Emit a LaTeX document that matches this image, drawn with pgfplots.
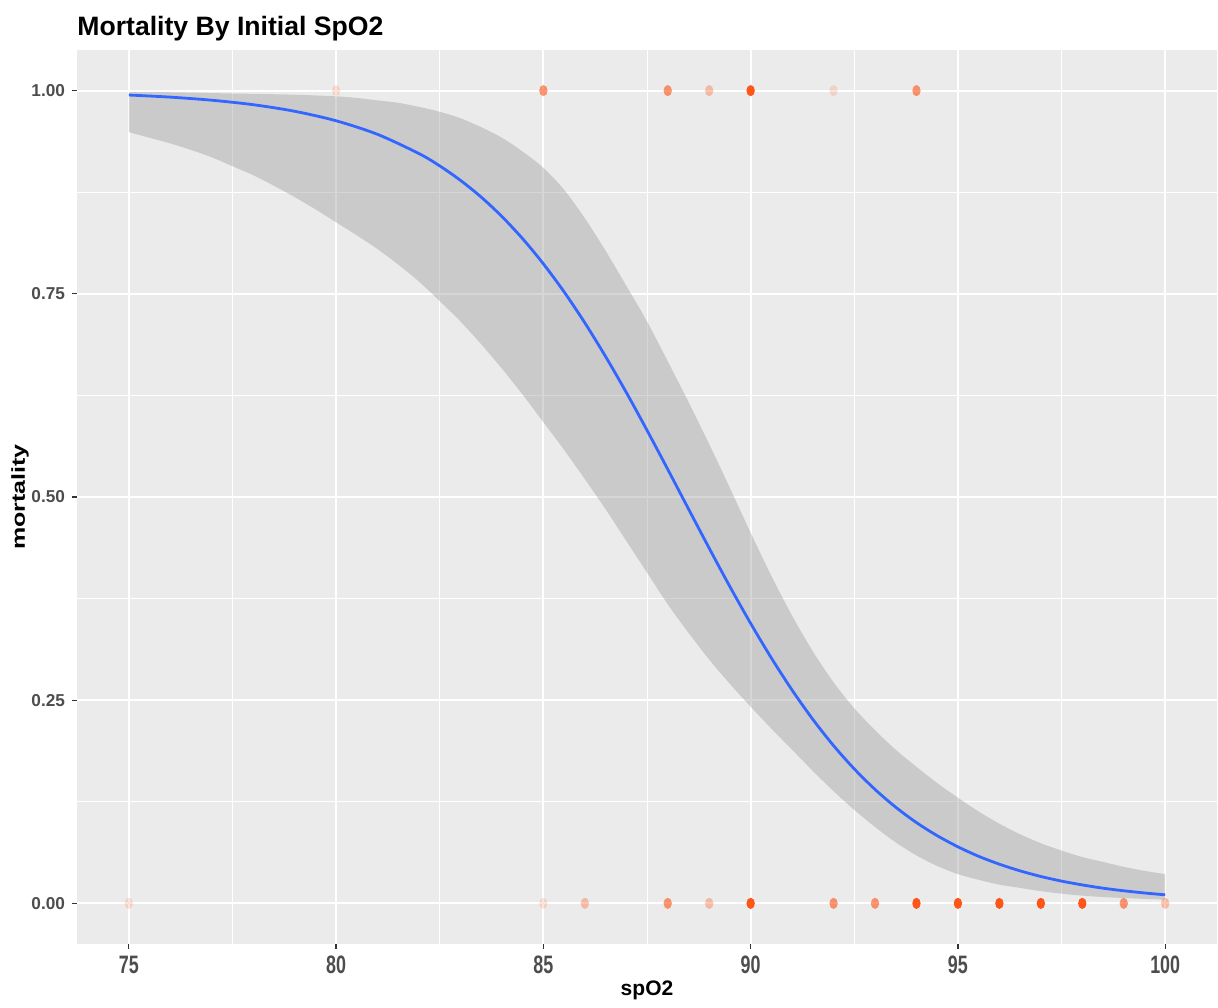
\documentclass[border=0pt]{standalone}
\usepackage{fontspec}
\setmainfont{Liberation Sans}
\newfontfamily\narrowfont{Liberation Sans}[FakeStretch=0.71]
\usepackage{pgfplots}
\pgfplotsset{compat=1.18}
\usepgfplotslibrary{fillbetween}

\definecolor{panel}{HTML}{EBEBEB}
\definecolor{grey30}{HTML}{4D4D4D}
\definecolor{grey20}{HTML}{333333}
\definecolor{ribbon}{HTML}{999999}
\definecolor{fitblue}{HTML}{3366FF}
\definecolor{ored}{HTML}{FF4500}

\pgfplotsset{
  obs/.style={only marks, mark=*, mark size=2.8pt,
    mark options={fill=ored, draw opacity=0, fill opacity=#1, xscale=0.75}},
}

\begin{document}
\begin{tikzpicture}
\begin{axis}[
  at={(0,0)}, anchor=south west,
  scale only axis, width=570pt, height=447pt,
  xmin=73.75, xmax=101.25, ymin=-0.05, ymax=1.05,
  axis background/.style={fill=panel},
  axis line style={draw=none},
  xtick={75,80,85,90,95,100},
  ytick={0,0.25,0.5,0.75,1},
  minor x tick num=1, minor y tick num=1,
  grid=both,
  major grid style={white, line width=1pt},
  minor grid style={white, line width=0.5pt},
  tick align=outside, tick pos=left,
  major tick length=2.5pt, minor tick length=0pt,
  tick style={grey20, line width=0.6pt},
  /pgf/number format/assume math mode=true,
  xticklabel style={font=\narrowfont\bfseries\fontsize{12.6}{14}\selectfont, text=grey30},
  yticklabel style={font=\bfseries\fontsize{8.6}{10}\selectfont, text=grey30,
    /pgf/number format/fixed, /pgf/number format/fixed zerofill,
    /pgf/number format/precision=2},
  title={Mortality By Initial SpO2},
  every axis title/.style={at={(axis description cs:0,1)}, anchor=base west,
    inner sep=0pt, yshift=7pt, font=\bfseries\fontsize{13.3}{15}\selectfont},
  xlabel={spO2},
  every axis x label/.style={at={(axis description cs:0.5,-0.0515)}, anchor=center,
    font=\bfseries\fontsize{10.5}{12}\selectfont},
  ylabel={\scalebox{1}[0.75]{mortality}},
  every axis y label/.style={at={(axis description cs:-0.05,0.5)}, anchor=center,
    rotate=90, font=\bfseries\fontsize{12.5}{14}\selectfont},
]
% observed outcomes, grouped by how dense the overlapping points look
\addplot[obs=0.15] coordinates {(80,1) (92,1) (75,0) (85,0)};
\addplot[obs=0.3] coordinates {(89,1) (86,0) (89,0) (100,0)};
\addplot[obs=0.55] coordinates {(85,1) (88,1) (94,1) (88,0) (92,0) (93,0) (99,0)};
\addplot[obs=0.9] coordinates {(90,1) (90,0) (94,0) (95,0) (96,0) (97,0) (98,0)};

% confidence ribbon edges
\addplot[name path=upper, draw=none, smooth, tension=0.5, forget plot] coordinates {
  (75,0.998) (76,0.998) (77,0.997) (78,0.996) (79,0.995) (80,0.993)
  (80.5,0.991) (81,0.988) (81.5,0.985) (82,0.980) (82.5,0.974) (83,0.966)
  (83.5,0.955) (84,0.942) (84.5,0.925) (85,0.905) (85.5,0.878) (86,0.843)
  (86.5,0.803) (87,0.760) (87.5,0.716) (88,0.667) (88.5,0.617) (89,0.565)
  (89.5,0.511) (90,0.456) (90.5,0.403) (91,0.354) (91.5,0.310) (92,0.272)
  (92.5,0.240) (93,0.213) (93.5,0.189) (94,0.168) (94.5,0.148) (95,0.130)
  (95.5,0.113) (96,0.098) (96.5,0.085) (97,0.074) (97.5,0.065) (98,0.057)
  (98.5,0.051) (99,0.045) (99.5,0.040) (100,0.036)
};
\addplot[name path=lower, draw=none, smooth, tension=0.5, forget plot] coordinates {
  (75,0.949) (75.5,0.942) (76,0.935) (76.5,0.927) (77,0.918) (77.5,0.907)
  (78,0.896) (78.5,0.883) (79,0.869) (79.5,0.854) (80,0.838) (80.5,0.822)
  (81,0.805) (81.5,0.786) (82,0.765) (82.5,0.741) (83,0.716) (83.5,0.688)
  (84,0.658) (84.5,0.626) (85,0.592) (85.5,0.558) (86,0.522) (86.5,0.485)
  (87,0.446) (87.5,0.407) (88,0.368) (88.5,0.333) (89,0.300) (89.5,0.270)
  (90,0.242) (90.5,0.215) (91,0.189) (91.5,0.163) (92,0.138) (92.5,0.115)
  (93,0.094) (93.5,0.075) (94,0.059) (94.5,0.046) (95,0.036) (95.5,0.029)
  (96,0.023) (96.5,0.019) (97,0.015) (97.5,0.012) (98,0.0095) (98.5,0.0078)
  (99,0.0065) (99.5,0.0055) (100,0.0045)
};
\addplot[fill=ribbon, fill opacity=0.4, draw=none] fill between[of=upper and lower];

% fitted curve
\addplot[fitblue, line width=1.4pt, smooth, tension=0.5] coordinates {
  (75,0.9946) (76,0.9920) (77,0.9882) (78,0.9827) (79,0.9746) (80,0.9629)
  (81,0.9462) (82,0.9225) (82.5,0.9074) (83,0.8896) (83.5,0.8690)
  (84,0.8451) (84.5,0.8178) (85,0.7869) (85.5,0.7524) (86,0.7143)
  (86.5,0.6729) (87,0.6287) (87.5,0.5821) (88,0.5341) (88.5,0.4854)
  (89,0.4370) (89.5,0.3897) (90,0.3445) (90.5,0.3019) (91,0.2624)
  (91.5,0.2264) (92,0.1941) (92.5,0.1654) (93,0.1402) (93.5,0.1183)
  (94,0.0994) (94.5,0.0833) (95,0.0696) (95.5,0.0579) (96,0.0482)
  (96.5,0.0400) (97,0.0331) (97.5,0.0274) (98,0.0227) (98.5,0.0187)
  (99,0.0155) (99.5,0.0128) (100,0.0105)
};
\end{axis}
\pgfresetboundingbox
\path[use as bounding box] (-38.5pt,-31.5pt) rectangle (570.5pt,472pt);
\end{tikzpicture}
\end{document}
